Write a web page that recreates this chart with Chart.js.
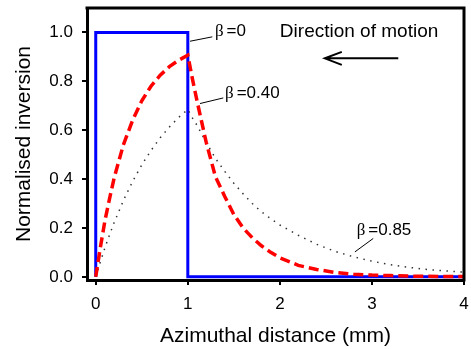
<!DOCTYPE html>
<html>
<head>
<meta charset="utf-8">
<script src="https://cdn.jsdelivr.net/npm/chart.js@4.4.1/dist/chart.umd.min.js"></script>
<style>
    html, body { margin: 0; padding: 0; background: #fff; }
    #wrap { width: 471px; height: 349px; }
</style>
</head>
<body>
<div id="wrap"><canvas id="inversionChart" width="471" height="349"></canvas></div>
<script>
// Azimuthal distance (mm) sampled for the two smooth curves
const distance = [0, 0.05, 0.1, 0.15, 0.2, 0.3, 0.4, 0.5, 0.6, 0.7, 0.8, 0.9, 1.0, 1.05, 1.1, 1.2, 1.3, 1.4, 1.5, 1.6,
    1.7, 1.8, 1.9, 2.0, 2.2, 2.4, 2.6, 2.8, 3.0, 3.2, 3.4, 3.6, 3.8, 4.0];

// beta = 0.40 (red dashed)
const beta040 = [0, 0.12, 0.23, 0.32, 0.405, 0.54, 0.64, 0.72, 0.78, 0.825, 0.86, 0.886, 0.907, 0.81, 0.72, 0.55,
    0.41, 0.33, 0.255, 0.2, 0.16, 0.127, 0.1, 0.078, 0.047, 0.03, 0.018, 0.011, 0.007, 0.005, 0.003, 0.002, 0.0015, 0.001];

// beta = 0.85 (black dotted)
const beta085 = [0, 0.061, 0.119, 0.172, 0.222, 0.312, 0.39, 0.458, 0.517, 0.569, 0.613, 0.652, 0.685, 0.65, 0.62,
    0.55, 0.485, 0.432, 0.383, 0.34, 0.3, 0.266, 0.238, 0.212, 0.17, 0.133, 0.104, 0.082, 0.064, 0.05, 0.039, 0.03, 0.024, 0.019];

// beta = 0 (blue square pulse)
const beta0X = [0, 0, 1, 1, 4];
const beta0Y = [0, 1, 1, 0, 0];

const xTicks = [0, 1, 2, 3, 4];
const yTicks = [0, 0.2, 0.4, 0.6, 0.8, 1.0];

const sans = '"Liberation Sans", Arial, Helvetica, sans-serif';
const serif = '"Liberation Serif", "Times New Roman", serif';

function toPoints(xs, ys) {
    return xs.map((x, i) => ({ x: x, y: ys[i] }));
}

// frame on the top and right, beta labels, direction arrow
const annotations = {
    id: "annotations",
    afterDatasetsDraw(chart) {
        const { ctx, chartArea: a, scales: { x, y } } = chart;
        const px = v => x.getPixelForValue(v);
        const py = v => y.getPixelForValue(v);
        ctx.save();

        ctx.strokeStyle = "#000";
        ctx.lineWidth = 3;
        ctx.lineJoin = "miter";
        ctx.beginPath();
        ctx.moveTo(a.left - 1.5, a.top);
        ctx.lineTo(a.right, a.top);
        ctx.lineTo(a.right, a.bottom + 1.5);
        ctx.stroke();

        // leader lines
        ctx.lineWidth = 1;
        const leaders = [
            [1.024, 0.964, 1.266, 0.982],
            [1.132, 0.709, 1.385, 0.732],
            [2.815, 0.102, 3.014, 0.157]
        ];
        leaders.forEach(l => {
            ctx.beginPath();
            ctx.moveTo(px(l[0]), py(l[1]));
            ctx.lineTo(px(l[2]), py(l[3]));
            ctx.stroke();
        });

        ctx.fillStyle = "#000";
        ctx.textBaseline = "alphabetic";
        ctx.textAlign = "left";
        const betaLabel = (bx, by, txt) => {
            ctx.font = "17px " + serif;
            ctx.fillText("\u03b2", px(bx), py(by));
            const w = ctx.measureText("\u03b2").width;
            ctx.font = "17px " + sans;
            ctx.fillText("=" + txt, px(bx) + w + 3, py(by));
        };
        betaLabel(1.295, 0.986, "0");
        betaLabel(1.404, 0.730, "0.40");
        betaLabel(2.834, 0.171, "0.85");

        ctx.font = "19px " + sans;
        ctx.fillText("Direction of motion", px(2.0), py(0.982));

        // arrow pointing left
        const tipX = px(2.488), tailX = px(3.286), ay = py(0.894);
        ctx.lineWidth = 2;
        ctx.beginPath();
        ctx.moveTo(tailX, ay);
        ctx.lineTo(tipX, ay);
        ctx.moveTo(tipX + 17, ay - 6.5);
        ctx.lineTo(tipX, ay);
        ctx.lineTo(tipX + 17, ay + 6.5);
        ctx.stroke();

        ctx.restore();
    }
};

document.addEventListener("DOMContentLoaded", function () {
    const ctx = document.getElementById("inversionChart").getContext("2d");

    new Chart(ctx, {
        type: "scatter",
        data: {
            datasets: [
                {
                    label: "\u03b2=0.40",
                    data: toPoints(distance, beta040),
                    showLine: true,
                    borderColor: "#ff0000",
                    borderWidth: 3.5,
                    borderDash: [10, 5],
                    borderCapStyle: "butt",
                    pointRadius: 0,
                    order: 0
                },
                {
                    label: "\u03b2=0.85",
                    data: toPoints(distance, beta085),
                    showLine: true,
                    borderColor: "#333333",
                    borderWidth: 1.5,
                    borderDash: [1.5, 5.5],
                    pointRadius: 0,
                    order: 1
                },
                {
                    label: "\u03b2=0",
                    data: toPoints(beta0X, beta0Y),
                    showLine: true,
                    borderColor: "#0000ff",
                    borderWidth: 3,
                    borderJoinStyle: "miter",
                    pointRadius: 0,
                    order: 2
                }
            ]
        },
        options: {
            responsive: false,
            animation: false,
            devicePixelRatio: 1,
            layout: { padding: { top: 8, right: 7, left: 0, bottom: 0 } },
            plugins: {
                legend: { display: false },
                tooltip: { enabled: false }
            },
            scales: {
                x: {
                    type: "linear",
                    min: -0.095,
                    max: 4,
                    afterBuildTicks: s => { s.ticks = xTicks.map(v => ({ value: v })); },
                    afterFit: s => { s.height = 69; s.paddingLeft = 0; s.paddingRight = 0; },
                    grid: { drawOnChartArea: false, drawTicks: true, tickLength: 5, color: "#000", lineWidth: 2 },
                    border: { display: true, color: "#000", width: 3 },
                    ticks: {
                        color: "#000",
                        padding: 9,
                        maxRotation: 0,
                        font: { family: sans, size: 17 },
                        callback: v => String(v)
                    },
                    title: {
                        display: true,
                        text: "Azimuthal distance (mm)",
                        color: "#000",
                        font: { family: sans, size: 21 },
                        padding: { top: 0, bottom: 0 }
                    }
                },
                y: {
                    min: -0.013,
                    max: 1.1,
                    afterBuildTicks: s => { s.ticks = yTicks.map(v => ({ value: v })); },
                    afterFit: s => { s.width = 87; s.paddingTop = 0; s.paddingBottom = 0; },
                    grid: { drawOnChartArea: false, drawTicks: true, tickLength: 5, color: "#000", lineWidth: 2 },
                    border: { display: true, color: "#000", width: 3 },
                    ticks: {
                        color: "#000",
                        padding: 9,
                        font: { family: sans, size: 17 },
                        callback: v => v.toFixed(1)
                    },
                    title: {
                        display: true,
                        text: "Normalised inversion",
                        color: "#000",
                        font: { family: sans, size: 21 },
                        padding: { top: 12, bottom: 0 }
                    }
                }
            }
        },
        plugins: [annotations]
    });
});
</script>
</body>
</html>
